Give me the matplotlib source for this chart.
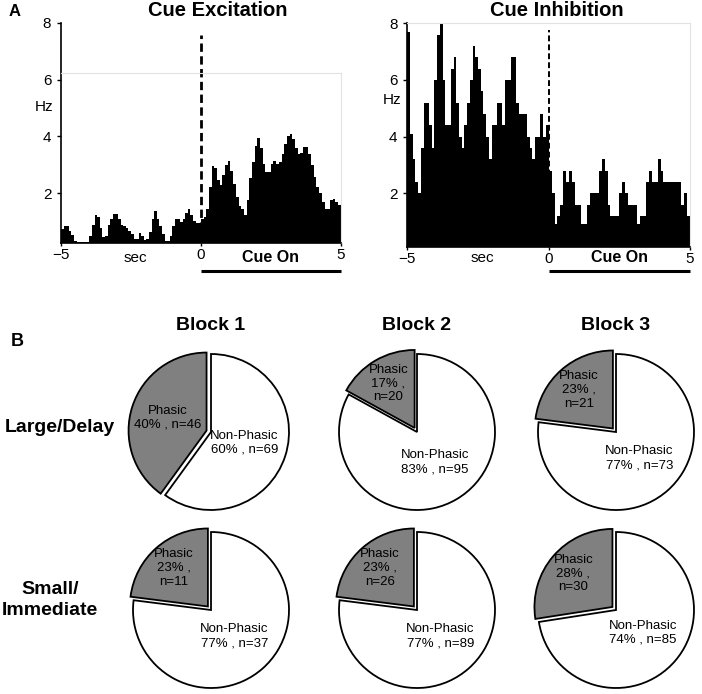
import matplotlib.pyplot as plt
import matplotlib.transforms as mtransforms
import numpy as np

plt.rcParams['font.family'] = ['Liberation Sans', 'DejaVu Sans']

# PSTH firing rates (Hz), read bin by bin; before and after cue onset
exc_pre = [0.74, 0.83, 0.83, 0.68, 0.53, 0.33, 0.3, 0.3, 0.3, 0.3, 0.3,
           0.48, 0.87, 1.25, 1.17, 0.79, 0.45, 0.5, 0.87, 1.08, 1.28, 1.28, 1.08,
           0.9, 0.85, 0.79, 0.68, 0.56, 0.39, 0.39,
           0.6, 0.5, 0.36, 0.39, 0.62, 1.08, 1.37, 1.08, 0.83, 0.56, 0.32, 0.32,
           0.48, 0.83, 1.11, 1.11, 1.0, 1.08, 1.3, 1.43, 1.25, 1.02, 0.97, 0.97]
exc_post = [1.1, 1.15, 1.43, 2.23, 2.95, 2.9, 2.46, 2.29, 2.63, 3.0, 3.15,
            2.8, 2.34, 1.88, 1.54, 1.43, 1.25, 1.77, 2.55, 3.09, 3.67, 3.95, 3.6, 3.03,
            2.74, 2.74, 3.03, 3.14, 3.03, 3.09, 3.38, 3.72, 4.0, 4.1, 3.9, 3.6, 3.38, 3.4,
            3.63, 3.63, 3.38, 2.98, 2.57, 2.23, 2.0, 1.7, 1.43, 1.43, 1.77, 1.8, 1.7, 1.6]
inh_pre = [7.7, 4.1, 3.2, 2.4, 2.0, 3.6, 5.2, 5.2, 4.4, 3.6,
           6.0, 7.6, 8.0, 6.0, 4.4, 4.4, 6.4, 6.8, 5.2, 4.0,
           3.6, 4.4, 5.2, 6.0, 7.2, 6.8, 6.4, 5.6, 4.8, 4.0,
           3.2, 4.4, 4.4, 5.2, 5.2, 4.4, 6.0, 6.0, 6.8, 6.8,
           5.2, 4.8, 4.8, 4.8, 4.0, 3.6, 3.2, 4.0, 4.0, 4.8,
           4.0, 4.4]
inh_post = [2.8, 2.0, 0.9, 1.2, 1.6, 2.8, 2.4, 2.8, 2.4, 1.6,
            1.6, 0.9, 0.9, 1.6, 2.0, 2.0, 2.0, 2.8, 3.2, 2.8,
            1.6, 1.2, 1.2, 1.2, 2.0, 2.4, 2.0, 1.6, 1.6, 1.6,
            0.9, 1.2, 1.2, 2.4, 2.8, 2.4, 2.4, 3.2, 2.8, 2.4,
            2.4, 2.4, 2.4, 2.4, 2.4, 1.6, 2.0, 1.2]

blocks = ["Block 1", "Block 2", "Block 3"]
conditions = ["Large/Delay", "Small/\nImmediate"]
phasic_pct = [[40, 17, 23], [23, 23, 28]]
phasic_n = [[46, 20, 21], [11, 26, 30]]
nonphasic_pct = [[60, 83, 77], [77, 77, 74]]
nonphasic_n = [[69, 95, 73], [37, 89, 85]]

W, H = 702, 694
fig = plt.figure(figsize=(W / 100, H / 100), dpi=100)


def px_axes(x0, y0, x1, y1):
    return fig.add_axes([x0 / W, 1 - y1 / H, (x1 - x0) / W, (y1 - y0) / H])


def psth(ax, pre, post, ymin, hz_pos, dash_top, dash_lw, box_top):
    edges = np.concatenate([np.linspace(-5, 0, len(pre) + 1),
                            np.linspace(0, 5, len(post) + 1)[1:]])
    ax.stairs(pre + post, edges, fill=True, color="black", baseline=0)
    ax.set_xlim(-5, 5)
    ax.set_ylim(ymin, 8)
    ax.set_xticks([-5, 0, 5])
    ax.set_yticks([2, 4, 6, 8])
    ax.tick_params(axis="y", labelsize=11, length=3, width=1, pad=4)
    ax.tick_params(axis="x", labelsize=11, length=2, width=1, pad=2)
    ax.vlines(0, ymin, dash_top, colors="black", lw=dash_lw,
              linestyles=(0, (3, 1.6)))
    for s in ["left", "bottom"]:
        ax.spines[s].set_linewidth(1.2)
    for s in ["top", "right"]:
        ax.spines[s].set_color("#e2e2e2")
        ax.spines[s].set_linewidth(0.8)
    ax.spines["top"].set_position(("data", box_top))
    ax.spines["right"].set_bounds(ymin, box_top)
    ax.set_ylabel("Hz", rotation=0, fontsize=11, ha="center", va="center")
    ax.yaxis.set_label_coords(*hz_pos)
    tr = mtransforms.blended_transform_factory(ax.transData, fig.transFigure)
    ax.text(-2.35, 1 - 262 / H, "sec", transform=tr, ha="center",
            va="baseline", fontsize=11)
    ax.text(2.5, 1 - 262 / H, "Cue On", transform=tr, ha="center",
            va="baseline", fontsize=11.5, fontweight="bold")
    ax.plot([0, 5], [1 - 271 / H] * 2, transform=tr, color="black",
            lw=2.2, clip_on=False, solid_capstyle="butt")


ax1 = px_axes(61, 22.7, 340.7, 242.7)
psth(ax1, exc_pre, exc_post, 0.26, (-0.061, 0.617), 7.57, 2.0, 6.23)
ax2 = px_axes(407.3, 23.3, 690, 246.7)
psth(ax2, inh_pre, inh_post, 0.115, (-0.054, 0.657), 7.75, 1.4, 8.0)

fig.text(218 / W, 1 - 11 / H, "Cue Excitation", ha="center", va="center",
         fontsize=14.5, fontweight="bold")
fig.text(557 / W, 1 - 11 / H, "Cue Inhibition", ha="center", va="center",
         fontsize=14.5, fontweight="bold")
fig.text(15 / W, 1 - 12 / H, "A", ha="center", va="center", fontsize=12,
         fontweight="bold")
fig.text(17.5 / W, 1 - 341.5 / H, "B", ha="center", va="center", fontsize=13,
         fontweight="bold")

# pie grid layout (pixels)
col_x = [211, 417, 616]
row_y = [432, 610]
R = 78
lim = 1.2

for c, name in enumerate(blocks):
    fig.text(col_x[c] / W, 1 - 326 / H, name, ha="center", va="center",
             fontsize=14, fontweight="bold")
for r, name in enumerate(conditions):
    fig.text((60 if r == 0 else 50) / W, 1 - (427 if r == 0 else 600) / H,
             name, ha="center", va="center", fontsize=14, fontweight="bold",
             linespacing=1.35)

for r in range(2):
    for c in range(3):
        cx, cy = col_x[c], row_y[r]
        h = R * lim
        ax = px_axes(cx - h, cy - h, cx + h, cy + h)
        wedges, _ = ax.pie([phasic_pct[r][c], nonphasic_pct[r][c]],
                           colors=["#808080", "white"], startangle=90,
                           explode=[0.06, 0], radius=1,
                           wedgeprops=dict(edgecolor="black", linewidth=1.3))
        ax.set_xlim(-lim, lim)
        ax.set_ylim(-lim, lim)
        ax.set_aspect("equal")
        ax.axis("off")
        p = phasic_pct[r][c]
        if p >= 30:
            ph = f"Phasic\n{p}% , n={phasic_n[r][c]}"
            d_ph = 0.52
        else:
            ph = f"Phasic\n{p}% ,\nn={phasic_n[r][c]}"
            d_ph = 0.66
        nph = f"Non-Phasic\n{nonphasic_pct[r][c]}% , n={nonphasic_n[r][c]}"
        for w, txt, d in zip(wedges, [ph, nph], [d_ph, 0.45]):
            ang = np.deg2rad((w.theta1 + w.theta2) / 2)
            x0, y0 = w.center
            ax.text(x0 + d * np.cos(ang), y0 + d * np.sin(ang), txt,
                    ha="center", va="center", fontsize=9.5, linespacing=1.2)

fig.savefig("out.png", dpi=100)
